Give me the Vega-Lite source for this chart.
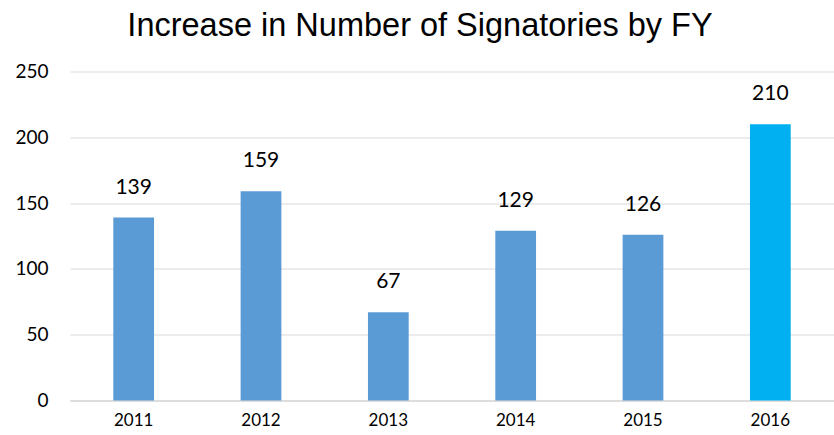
{
  "$schema": "https://vega.github.io/schema/vega-lite/v6.json",
  "autosize": "none",
  "width": 764,
  "height": 329,
  "padding": {"left": 70, "top": 71.5, "right": 0, "bottom": 34.5},
  "background": "white",
  "title": {
    "text": "Increase in Number of Signatories by FY",
    "font": "Liberation Sans",
    "fontSize": 32.5,
    "fontWeight": "normal",
    "color": "#000000",
    "anchor": "middle",
    "frame": "group",
    "dx": -32,
    "baseline": "alphabetic",
    "offset": -6
  },
  "data": {
    "values": [
      {"year": "2011", "count": 139},
      {"year": "2012", "count": 159},
      {"year": "2013", "count": 67},
      {"year": "2014", "count": 129},
      {"year": "2015", "count": 126},
      {"year": "2016", "count": 210}
    ]
  },
  "config": {
    "view": {"stroke": null},
    "axis": {"labelFont": "Lato", "labelColor": "#000000"}
  },
  "encoding": {
    "x": {
      "field": "year",
      "type": "nominal",
      "sort": null,
      "scale": {"paddingInner": 0.68, "paddingOuter": 0.34},
      "axis": {
        "title": null,
        "labelAngle": 0,
        "labelFontSize": 17,
        "labelPadding": 12,
        "ticks": false,
        "domainColor": "#D9D9D9",
        "domainWidth": 1.5,
        "grid": false
      }
    },
    "y": {
      "field": "count",
      "type": "quantitative",
      "scale": {"domain": [0, 250], "nice": false},
      "axis": {
        "title": null,
        "values": [0, 50, 100, 150, 200, 250],
        "labelFontSize": 19,
        "labelPadding": 22,
        "ticks": false,
        "domain": false,
        "gridColor": "#D9D9D9",
        "gridWidth": 1
      }
    }
  },
  "layer": [
    {
      "mark": {"type": "bar"},
      "encoding": {
        "color": {
          "condition": {"test": "datum.year === '2016'", "value": "#00B0F0"},
          "value": "#5B9BD5"
        }
      }
    },
    {
      "mark": {
        "type": "text",
        "font": "Lato",
        "fontSize": 21,
        "baseline": "alphabetic",
        "dy": -24,
        "color": "#000000"
      },
      "encoding": {"text": {"field": "count", "type": "quantitative"}}
    }
  ]
}
